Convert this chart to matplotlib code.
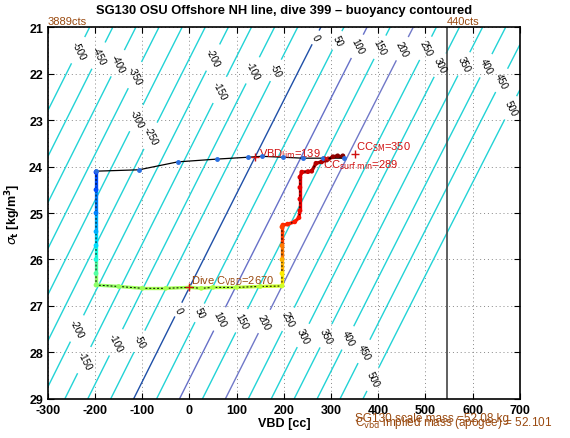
import matplotlib
matplotlib.use("Agg")
import matplotlib.pyplot as plt
import numpy as np
from matplotlib.collections import LineCollection

plt.rcParams["font.family"] = ["Liberation Sans", "DejaVu Sans"]
plt.rcParams["axes.unicode_minus"] = False
plt.rcParams["contour.negative_linestyle"] = "solid"

# glider constants used for the buoyancy field
IMPLIED_MASS = 52101.0   # g
REF_SIGMA = 26.6         # sigma_t where C_VBD applies
LEVELS = list(range(-500, 501, 50))
BLUE_LEVELS = {0: "#1f50a8", 100: "#6670c8", 200: "#7078c8"}

# dive track (VBD [cc], sigma_t [kg/m^3]) and colour value along the dive
dive_vbd = [325, 314, 304, 291, 280, 268, 259, 251, 238, 234, 234, 234, 234, 232, 223, 208, 198,
            196, 196, 196, 196, 196, 150, 100, 50, 25, 0, -50, -100, -150, -198,
            -198, -198, -198, -198, -198, -198, -198]
dive_sigma = [23.77, 23.77, 23.79, 23.86, 23.90, 23.93, 24.10, 24.11, 24.12, 24.23, 24.45, 24.70, 24.95,
              25.10, 25.19, 25.24, 25.26,
              25.30, 25.70, 26.00, 26.30, 26.57, 26.58, 26.60, 26.60, 26.62, 26.60, 26.62, 26.62, 26.58, 26.55,
              26.30, 26.00, 25.70, 25.40, 25.00, 24.50, 24.12]
dive_phase = [1.00, 0.99, 0.98, 0.97, 0.96, 0.95, 0.94, 0.93, 0.92, 0.92, 0.91, 0.91, 0.90,
              0.89, 0.88, 0.87, 0.86,
              0.84, 0.78, 0.72, 0.66, 0.60, 0.58, 0.57, 0.56, 0.56, 0.55, 0.55, 0.54, 0.53, 0.52,
              0.45, 0.38, 0.34, 0.30, 0.25, 0.20, 0.16]

climb_vbd = [-198, -107, -25, 58, 124, 153, 198, 240, 283, 327]
climb_sigma = [24.10, 24.07, 23.90, 23.84, 23.80, 23.78, 23.80, 23.82, 23.82, 23.82]

VBD_LIM = 139
CC_SM = 350
CC_SURF_MIN = 289
DIVE_C_VBD = 2670
MAX_CTS_VBD = 545

fig = plt.figure(figsize=(5.7, 4.39), dpi=100)
ax = fig.add_axes([0.084, 0.089, 0.828, 0.847])

# buoyancy field
vbd = np.linspace(-300, 700, 201)
sig = np.linspace(21, 29, 81)
V, S = np.meshgrid(vbd, sig)
rho = 1.0 + S / 1000.0
v0 = IMPLIED_MASS / (1.0 + REF_SIGMA / 1000.0)
buoy = rho * (v0 + V) - IMPLIED_MASS

level_colors = [BLUE_LEVELS.get(lv, "#22d3d6") for lv in LEVELS]
cs = ax.contour(V, S, buoy, levels=LEVELS, colors=level_colors, linewidths=1.0)

top_pos = [(-249, 21.43), (-211, 21.52), (-169, 21.69), (-120, 22.01), (-122, 22.91), (-90, 23.30),
           (43, 21.62), (60, 22.33), (128, 21.90), (177, 21.90), (261, 21.19), (308, 21.26),
           (355, 21.41), (403, 21.43), (452, 21.47), (503, 21.47), (535, 21.84), (583, 21.80),
           (630, 21.84), (664, 22.16), (685, 22.76)]
bot_pos = [(-249, 27.43), (-228, 28.14), (-162, 27.75), (-116, 27.71), (-27, 27.06), (18, 27.13),
           (64, 27.28), (111, 27.32), (156, 27.32), (208, 27.28), (244, 27.65), (291, 27.65),
           (340, 27.71), (376, 28.01), (395, 28.61)]
ax.clabel(cs, inline=True, fontsize=7, fmt="%d", colors="black", manual=top_pos + bot_pos)

# dive track coloured by phase
pts = np.column_stack([dive_vbd, dive_sigma]).reshape(-1, 1, 2)
segs = np.concatenate([pts[:-1], pts[1:]], axis=1)
lc = LineCollection(segs, cmap="jet", linewidths=2.4, zorder=3)
lc.set_array(np.array(dive_phase[:-1]))
lc.set_clim(0, 1)
ax.add_collection(lc)
ax.plot(dive_vbd, dive_sigma, color="black", lw=0.7, ls=(0, (2, 2)), zorder=3)
ax.scatter(dive_vbd, dive_sigma, c=dive_phase, cmap="jet", vmin=0, vmax=1, s=6, zorder=4)

ax.plot(climb_vbd, climb_sigma, color="black", lw=0.9, zorder=3)
ax.plot(climb_vbd, climb_sigma, ls="none", marker="o", ms=2.5, color="#2a6ee0", zorder=4)

# markers and annotations
red = "#d01010"
brown = "#9a4a10"
ax.plot(VBD_LIM, 23.8, "+", color=red, ms=6, zorder=5)
ax.text(VBD_LIM + 8, 23.78, r"VBD$_{\rm lim}$=%d" % VBD_LIM, color=red, fontsize=8)
ax.plot(CC_SM, 23.74, "+", color=red, ms=6, zorder=5)
ax.text(CC_SM + 3, 23.62, r"CC$_{\rm SM}$=%d" % CC_SM, color=red, fontsize=8)
ax.plot(CC_SURF_MIN, 23.82, "x", color=red, ms=3, zorder=5)
ax.text(CC_SURF_MIN - 6, 24.02, r"CC$_{\rm surf\ min}$=%d" % CC_SURF_MIN, color=red, fontsize=8)
ax.plot(0, 26.6, "+", color=red, ms=6, zorder=5)
ax.text(3, 26.5, r"Dive C$_{\rm VBD}$=%d" % DIVE_C_VBD, color=brown, fontsize=8)

ax.axvline(MAX_CTS_VBD, color="#444444", lw=1.2)
ax.text(-300, 20.98, "3889cts", color=brown, fontsize=8, va="bottom")
ax.text(MAX_CTS_VBD, 20.98, "440cts", color=brown, fontsize=8, va="bottom")

ax.text(350, 29.47, "SG130 scale mass =52.08 kg", color=brown, fontsize=8.5, clip_on=False)
ax.text(350, 29.56, r"C$_{\rm vbd}$ implied mass (apogee) = 52.101", color=brown, fontsize=8.5,
        clip_on=False)

ax.set_xlim(-300, 700)
ax.set_ylim(29, 21)
ax.set_xticks(range(-300, 701, 100))
ax.set_yticks(range(21, 30))
ax.grid(True, ls=(0, (1, 3)), color="#888888", lw=0.7)
ax.tick_params(direction="in", labelsize=9, top=True, right=True, length=4)
for lab in ax.get_xticklabels() + ax.get_yticklabels():
    lab.set_fontweight("bold")
ax.set_xlabel("VBD [cc]", fontweight="bold", fontsize=9, labelpad=1)
ax.set_ylabel(r"$\sigma_{\mathbf{t}}$ [kg/m$^{\mathbf{3}}$]", fontweight="bold", fontsize=9, labelpad=4)
ax.set_title("SG130 OSU Offshore NH line, dive 399 \u2013 buoyancy contoured", fontweight="bold",
             fontsize=9.3, pad=10)
for sp in ax.spines.values():
    sp.set_linewidth(1.2)

fig.savefig("out.png", dpi=100)
